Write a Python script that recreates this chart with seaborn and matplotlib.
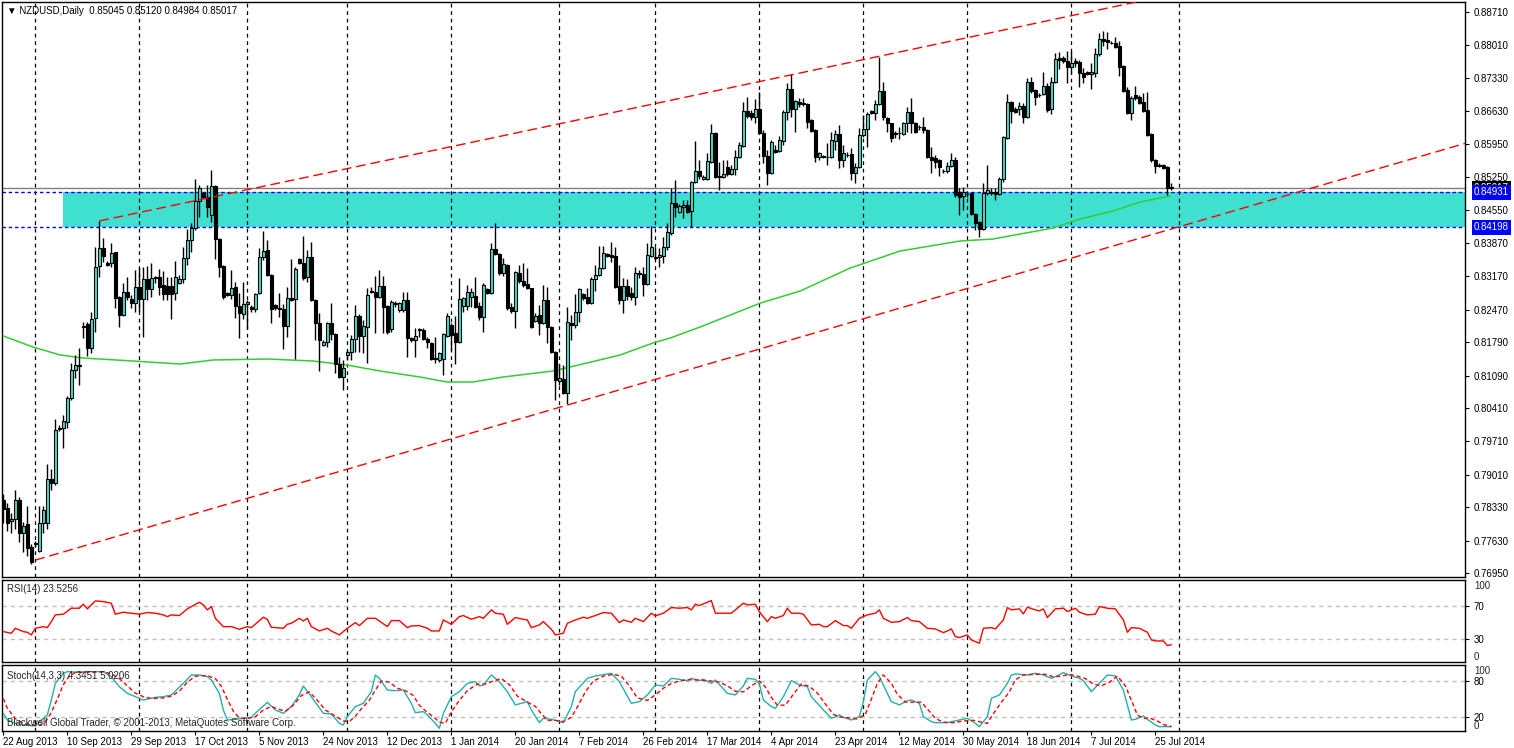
import numpy as np
import matplotlib
matplotlib.use("Agg")
import matplotlib.pyplot as plt
import matplotlib.transforms as mtransforms
from matplotlib.patches import Rectangle
import seaborn as sns

# ---------------- data (NZDUSD daily, one value per bar) ----------------
open_ = [.7847,.7832,.7803,.7809,.7849,.7778,.7797,.7750,.7755,.7742,
.7799,.7799,.7891,.7883,.8000,.7998,.8011,.8061,.8120,.8128,
.8212,.8217,.8166,.8229,.8338,.8376,.8345,.8345,.8368,.8273,
.8236,.8284,.8269,.8261,.8294,.8269,.8311,.8290,.8315,.8315,
.8299,.8296,.8296,.8282,.8303,.8311,.8355,.8393,.8418,.8475,
.8492,.8483,.8446,.8506,.8395,.8338,.8282,.8277,.8294,.8254,
.8238,.8259,.8252,.8248,.8282,.8357,.8372,.8320,.8257,.8250,
.8248,.8212,.8271,.8269,.8353,.8345,.8315,.8357,.8267,.8219,
.8172,.8179,.8219,.8196,.8133,.8105,.8152,.8158,.8185,.8233,
.8191,.8210,.8286,.8284,.8273,.8296,.8254,.8206,.8261,.8246,
.8246,.8267,.8187,.8183,.8206,.8204,.8185,.8177,.8145,.8141,
.8143,.8191,.8215,.8198,.8179,.8254,.8254,.8273,.8275,.8254,
.8231,.8290,.8282,.8374,.8364,.8324,.8341,.8252,.8244,.8324,
.8307,.8301,.8292,.8223,.8236,.8219,.8267,.8210,.8158,.8097,
.8101,.8072,.8219,.8215,.8242,.8280,.8273,.8261,.8311,.8320,
.8334,.8364,.8362,.8359,.8296,.8267,.8296,.8282,.8273,.8322,
.8322,.8301,.8359,.8357,.8357,.8359,.8378,.8408,.8471,.8452,
.8462,.8467,.8454,.8515,.8538,.8521,.8521,.8557,.8618,.8527,
.8525,.8546,.8532,.8542,.8567,.8590,.8664,.8660,.8651,.8668,
.8618,.8569,.8534,.8582,.8580,.8601,.8662,.8710,.8668,.8683,
.8681,.8679,.8645,.8624,.8567,.8567,.8567,.8567,.8601,.8616,
.8561,.8572,.8574,.8534,.8546,.8614,.8626,.8664,.8660,.8679,
.8706,.8649,.8639,.8618,.8618,.8616,.8639,.8662,.8639,.8630,
.8630,.8624,.8567,.8565,.8561,.8538,.8538,.8548,.8561,.8494,
.8485,.8490,.8492,.8448,.8431,.8416,.8492,.8494,.8494,.8490,
.8521,.8607,.8683,.8668,.8668,.8674,.8651,.8725,.8708,.8698,
.8700,.8716,.8668,.8725,.8775,.8775,.8769,.8756,.8769,.8767,
.8744,.8746,.8742,.8744,.8782,.8815,.8813,.8807,.8807,.8800,
.8758,.8708,.8660,.8698,.8693,.8683,.8666,.8616,.8561,.8550,
.8550,.8546,.85045]

high = [.7860,.7841,.7820,.7870,.7855,.7801,.7836,.7755,.7763,.7836,
.7836,.7923,.7912,.8017,.8005,.8026,.8065,.8135,.8152,.8166,
.8221,.8221,.8242,.8378,.8433,.8397,.8349,.8387,.8368,.8275,
.8303,.8315,.8277,.8330,.8334,.8336,.8338,.8345,.8317,.8332,
.8328,.8315,.8315,.8349,.8320,.8378,.8416,.8429,.8521,.8508,
.8494,.8508,.8540,.8508,.8397,.8341,.8284,.8330,.8305,.8282,
.8305,.8267,.8257,.8282,.8376,.8412,.8393,.8322,.8259,.8282,
.8259,.8294,.8353,.8336,.8355,.8401,.8372,.8389,.8269,.8240,
.8183,.8221,.8261,.8198,.8147,.8141,.8162,.8194,.8257,.8238,
.8225,.8292,.8294,.8317,.8330,.8317,.8257,.8267,.8265,.8263,
.8284,.8284,.8189,.8208,.8208,.8208,.8189,.8180,.8189,.8158,
.8198,.8240,.8219,.8233,.8313,.8273,.8299,.8292,.8315,.8263,
.8303,.8292,.8387,.8429,.8366,.8355,.8343,.8261,.8328,.8341,
.8345,.8334,.8292,.8240,.8257,.8299,.8294,.8212,.8160,.8133,
.8131,.8252,.8236,.8280,.8292,.8282,.8292,.8315,.8341,.8380,
.8380,.8366,.8389,.8378,.8341,.8313,.8311,.8294,.8336,.8330,
.8336,.8387,.8422,.8378,.8376,.8399,.8429,.8502,.8519,.8469,
.8477,.8477,.8517,.8601,.8561,.8529,.8576,.8637,.8620,.8557,
.8561,.8561,.8551,.8582,.8599,.8683,.8693,.8666,.8689,.8704,
.8624,.8582,.8603,.8593,.8611,.8666,.8723,.8742,.8687,.8691,
.8691,.8681,.8647,.8626,.8578,.8571,.8597,.8620,.8624,.8635,
.8593,.8578,.8586,.8555,.8628,.8656,.8662,.8666,.8687,.8777,
.8725,.8651,.8639,.8622,.8630,.8641,.8672,.8691,.8641,.8635,
.8651,.8626,.8588,.8571,.8563,.8542,.8557,.8576,.8567,.8502,
.8504,.8492,.8494,.8450,.8433,.8513,.8551,.8502,.8502,.8525,
.8611,.8700,.8685,.8672,.8683,.8681,.8733,.8735,.8710,.8702,
.8746,.8723,.8735,.8786,.8788,.8779,.8790,.8790,.8775,.8771,
.8754,.8748,.8765,.8796,.8826,.8832,.8830,.8811,.8819,.8811,
.8760,.8714,.8695,.8716,.8698,.8702,.8704,.8618,.8563,.8555,
.8553,.8548,.85120]

low = [.7799,.7784,.7778,.7788,.7759,.7738,.7731,.7713,.7750,.7738,
.7778,.7788,.7868,.7879,.7992,.7956,.8000,.8057,.8103,.8089,
.8187,.8149,.8156,.8200,.8315,.8347,.8338,.8336,.8250,.8210,
.8233,.8267,.8250,.8242,.8242,.8189,.8267,.8273,.8303,.8277,
.8267,.8267,.8227,.8267,.8301,.8303,.8341,.8368,.8414,.8441,
.8481,.8441,.8431,.8353,.8315,.8269,.8275,.8269,.8229,.8187,
.8227,.8206,.8242,.8242,.8280,.8351,.8317,.8219,.8246,.8231,
.8164,.8189,.8265,.8143,.8343,.8309,.8305,.8265,.8183,.8118,
.8170,.8168,.8183,.8114,.8103,.8078,.8141,.8141,.8158,.8158,
.8156,.8135,.8282,.8198,.8271,.8198,.8196,.8200,.8252,.8242,
.8242,.8147,.8179,.8147,.8189,.8183,.8166,.8141,.8135,.8137,
.8110,.8189,.8162,.8133,.8177,.8242,.8246,.8252,.8250,.8225,
.8200,.8280,.8280,.8362,.8320,.8317,.8246,.8240,.8208,.8303,
.8294,.8290,.8208,.8221,.8194,.8217,.8177,.8156,.8057,.8089,
.8070,.8049,.8183,.8208,.8221,.8267,.8259,.8259,.8286,.8317,
.8332,.8357,.8347,.8292,.8259,.8240,.8267,.8267,.8257,.8313,
.8275,.8299,.8357,.8351,.8336,.8345,.8372,.8404,.8441,.8450,
.8439,.8450,.8420,.8513,.8521,.8519,.8519,.8555,.8523,.8498,
.8523,.8527,.8529,.8529,.8565,.8588,.8649,.8645,.8639,.8616,
.8555,.8509,.8532,.8576,.8578,.8593,.8645,.8651,.8620,.8672,
.8674,.8628,.8620,.8557,.8561,.8565,.8551,.8565,.8582,.8544,
.8546,.8567,.8519,.8513,.8544,.8609,.8588,.8658,.8645,.8677,
.8645,.8620,.8599,.8607,.8605,.8613,.8620,.8618,.8618,.8624,
.8618,.8565,.8534,.8544,.8527,.8534,.8534,.8546,.8483,.8446,
.8456,.8483,.8446,.8414,.8399,.8414,.8488,.8488,.8477,.8488,
.8515,.8605,.8639,.8660,.8656,.8639,.8649,.8702,.8677,.8693,
.8698,.8662,.8658,.8723,.8752,.8765,.8723,.8744,.8756,.8714,
.8723,.8740,.8710,.8735,.8779,.8800,.8794,.8803,.8796,.8737,
.8704,.8658,.8645,.8687,.8679,.8662,.8611,.8557,.8534,.8546,
.8542,.8488,.84984]

close = [.7830,.7799,.7809,.7849,.7778,.7794,.7748,.7719,.7757,.7799,
.7828,.7891,.7883,.7994,.7996,.8013,.8061,.8120,.8131,.8131,
.8210,.8166,.8227,.8336,.8376,.8359,.8341,.8366,.8271,.8236,
.8284,.8273,.8261,.8294,.8269,.8311,.8290,.8313,.8314,.8294,
.8280,.8280,.8280,.8315,.8311,.8355,.8393,.8418,.8475,.8502,
.8483,.8462,.8506,.8395,.8336,.8273,.8277,.8292,.8254,.8240,
.8259,.8263,.8248,.8280,.8357,.8370,.8320,.8248,.8250,.8248,
.8212,.8271,.8267,.8332,.8345,.8313,.8357,.8267,.8219,.8183,
.8179,.8219,.8196,.8133,.8105,.8124,.8158,.8185,.8233,.8191,
.8212,.8277,.8284,.8273,.8296,.8252,.8200,.8263,.8259,.8261,
.8267,.8187,.8183,.8191,.8204,.8185,.8179,.8143,.8144,.8156,
.8196,.8233,.8194,.8179,.8269,.8271,.8284,.8284,.8252,.8231,
.8299,.8282,.8374,.8364,.8324,.8343,.8250,.8244,.8326,.8307,
.8299,.8292,.8210,.8233,.8219,.8267,.8210,.8158,.8099,.8103,
.8072,.8221,.8215,.8242,.8290,.8271,.8261,.8311,.8320,.8334,
.8366,.8359,.8357,.8294,.8267,.8296,.8275,.8273,.8324,.8324,
.8301,.8362,.8378,.8356,.8362,.8378,.8410,.8471,.8462,.8464,
.8467,.8452,.8515,.8538,.8527,.8525,.8559,.8618,.8525,.8526,
.8532,.8532,.8542,.8567,.8593,.8664,.8653,.8651,.8668,.8618,
.8569,.8534,.8599,.8578,.8603,.8662,.8710,.8668,.8685,.8679,
.8679,.8641,.8622,.8567,.8576,.8569,.8568,.8603,.8616,.8561,
.8576,.8571,.8534,.8546,.8614,.8626,.8658,.8660,.8679,.8706,
.8651,.8639,.8607,.8616,.8617,.8639,.8662,.8639,.8620,.8629,
.8624,.8567,.8561,.8557,.8546,.8537,.8548,.8561,.8488,.8483,
.8494,.8489,.8448,.8429,.8416,.8492,.8498,.8492,.8490,.8521,
.8609,.8683,.8664,.8662,.8674,.8651,.8725,.8706,.8693,.8697,
.8716,.8666,.8725,.8773,.8771,.8769,.8756,.8765,.8765,.8744,
.8735,.8742,.8746,.8782,.8815,.8811,.8809,.8806,.8798,.8756,
.8706,.8660,.8691,.8691,.8681,.8664,.8614,.8561,.8548,.8549,
.8544,.8502,.85017]

# moving average (green) read at bar positions
ma_bar = [0, 7.4, 14.2, 20, 32.4, 44.2, 52.4, 65.9, 77.4, 85.9, 94.2, 104.2, 110.9, 117.4,
          124.9, 137.4, 145.9, 154.2, 162.4, 166.7, 174.2, 189.2, 199.2, 211.7, 224.2,
          239.2, 247.4, 262.4, 269.2, 277.4, 284.2, 291.7]
ma_val = [0.81918, 0.81687, 0.81520, 0.81457, 0.81394, 0.81331, 0.81415, 0.81436, 0.81394,
          0.81310, 0.81184, 0.81058, 0.80954, 0.80954, 0.81058, 0.81184, 0.81352, 0.81520,
          0.81771, 0.81876, 0.82107, 0.82607, 0.82861, 0.83343, 0.83700, 0.83910, 0.83951,
          0.84182, 0.84371, 0.84538, 0.84727, 0.84853]

# trend lines (anchor bars / prices)
trend_up_bar = [24, 290]
trend_up_val = [0.8433, 0.8904]
trend_lo_bar = [8, 366]
trend_lo_val = [0.7722, 0.8597]

# zone and levels
zone_start_bar = 14.9
zone_lo, zone_hi = 0.84198, 0.84931
bid = 0.85017

# RSI(14)
rsi_bar = [0,2,3,5,6,7,8,10,11,12,13,15,17,19,20,21,23,25,27,28,30,32,34,36,38,40,41,42,44,46,
           49,50,51,52,53,55,57,59,61,62,65,66,67,70,71,72,74,75,76,77,79,81,82,84,85,86,88,89,
           91,93,94,96,97,99,101,102,104,106,107,109,110,112,114,115,117,119,120,122,123,125,
           126,128,130,131,132,134,135,137,138,140,141,143,145,146,148,150,152,154,155,157,158,
           160,162,163,165,167,169,171,172,173,174,177,178,182,185,186,188,189,191,192,193,195,
           196,197,199,200,202,204,205,206,208,210,211,212,214,216,218,219,220,222,224,226,227,
           229,231,233,235,236,237,238,239,241,242,244,245,247,248,250,251,252,254,255,256,258,
           259,260,261,263,265,266,268,269,271,273,274,276,278,280,281,282,284,286,287,288,290,
           291,292]
rsi_val = [39.2,37.2,43.2,39.2,38.4,35.2,43.2,45.2,44.0,51.2,59.3,60.1,67.3,67.3,72.1,66.5,76.1,
           75.3,73.3,60.1,62.5,61.3,60.1,62.1,61.3,59.3,57.2,59.3,58.5,66.5,74.5,71.3,65.3,69.3,
           55.2,45.2,45.2,42.0,45.2,44.0,56.5,54.0,44.4,43.2,48.0,49.2,55.2,52.0,55.2,45.2,40.0,
           43.2,40.0,35.2,39.2,43.2,50.0,46.4,55.2,55.2,52.0,45.2,52.4,52.4,44.0,46.0,46.4,43.2,
           40.0,40.0,53.2,48.0,57.2,58.5,54.0,57.2,55.2,65.3,61.3,60.1,48.0,56.1,54.0,53.2,44.0,
           47.2,51.2,42.0,35.2,37.2,49.2,53.2,56.5,55.2,58.5,62.1,61.3,50.0,53.2,50.4,55.2,51.2,
           61.3,58.1,61.3,68.1,67.3,68.1,65.3,72.1,70.5,76.5,61.3,61.3,73.3,71.3,72.1,63.0,51.2,
           57.2,55.2,58.5,67.3,61.3,61.3,60.1,47.2,48.0,45.2,45.2,52.4,46.4,46.4,43.2,55.2,59.3,
           61.3,65.3,55.2,50.4,51.2,56.1,52.4,51.2,43.2,42.4,38.0,40.0,42.4,33.2,32.0,35.2,29.2,
           25.2,43.2,44.0,42.4,53.2,68.1,65.3,66.5,60.5,68.5,65.3,64.1,66.5,56.1,66.5,67.3,63.3,
           67.3,62.5,59.3,60.1,69.3,67.3,66.5,53.2,38.4,44.0,43.2,38.4,29.2,28.0,28.0,22.4,23.5]

# Stochastic(14,3,3): main and signal
stk_bar = [0,1,3,5,8,9,11,12,13,15,16,19,22,25,27,29,31,33,35,38,40,42,45,47,49,51,52,54,55,56,
           58,60,62,63,66,68,70,72,74,75,77,80,82,84,85,86,88,90,92,93,94,96,98,100,102,103,105,
           106,108,109,110,112,114,116,118,119,120,122,124,126,128,131,132,134,135,137,140,142,
           143,146,148,151,152,154,157,159,161,163,165,167,169,171,172,174,175,177,178,181,183,
           185,186,188,189,190,192,193,195,197,199,201,202,205,207,209,210,212,214,215,216,218,
           219,221,222,224,226,227,229,230,232,233,236,239,241,243,244,246,247,249,251,252,253,
           256,258,260,262,263,265,267,269,270,272,274,276,278,280,281,282,283,285,286,288,289,
           291,292]
stk_val = [26.6,15.6,10.1,7.3,5.7,12.8,23.9,48.6,76.1,92.7,95.4,94.3,95.4,95.4,87.2,70.6,59.6,
           54.1,48.6,53.0,54.1,56.9,76.1,89.9,89.9,87.2,81.7,59.6,32.1,15.6,16.7,18.3,20.0,26.6,
           44.8,32.1,26.6,37.6,56.9,71.7,54.1,26.6,25.5,10.1,7.3,21.1,37.6,43.1,62.4,89.9,84.4,
           65.1,64.0,65.1,43.1,27.7,29.4,23.9,10.1,1.8,26.6,54.1,62.4,76.1,78.9,71.7,73.4,89.9,
           78.9,62.4,40.4,45.9,32.1,11.2,18.3,16.7,11.2,37.6,62.4,84.4,88.3,91.6,92.7,78.9,43.1,
           45.9,56.9,73.4,71.7,84.4,82.8,80.6,84.4,80.6,82.8,76.1,81.7,59.6,56.9,71.7,84.4,82.8,
           75.0,48.6,37.6,34.9,54.1,80.6,73.4,70.6,54.1,32.1,18.3,23.9,20.0,15.6,21.1,45.9,81.7,
           95.4,87.2,59.6,45.9,40.4,47.5,48.6,43.1,21.1,12.8,11.2,11.2,15.6,18.3,10.1,4.6,21.1,
           51.4,56.9,76.1,89.9,91.6,89.9,92.7,89.9,84.4,87.2,93.8,88.3,84.4,80.6,62.4,76.1,89.9,
           88.3,65.1,40.4,15.6,16.7,22.2,16.7,7.3,4.6,4.6,4.35]
sig_bar = [0,1,3,5,7,9,10.5,12,13.5,15,16.5,18,21,25,27,29,31,33,35,37,40,42,44,46,48,51,53,54.5,
           56,57.5,59,61,63,65,67,68.5,70.5,72.5,74.5,76.5,78.5,80.5,83,85,86.5,88,89.5,91.5,93,
           94.5,96.5,98.5,100.5,102.5,104,106,107.5,109,110.5,112,114,116,118.5,120.5,122.5,124.5,
           126.5,128.5,131,133,134.5,136,138,140,142,143.5,145.5,147.5,150,152.5,154.5,156.5,158.5,
           161,163,165,167,169,171,173,175,177,179,181,183,185,187,189,190.5,192,193.5,195.5,197.5,
           199.5,201.5,203.5,205.5,207.5,209.5,211.5,213.5,215.5,217,218.5,220,222,223.5,225.5,
           227.5,229.5,231.5,233,235,237.5,240,242.5,244.5,246,247.5,249.5,251.5,253,255,258,260.5,
           262.5,264.5,266.5,268.5,270.5,272.5,274.5,276.5,278.5,280.5,282,283.5,285,286.5,288.5,
           290,292]
sig_val = [51,35,18,10,7,7,12,28,50,74,88,94,95,95,92,84,72,60,54,51,52,55,63,78,88,89,84,71,50,
           30,19,18,21,32,38,34,30,40,56,62,48,32,22,14,13,22,34,48,65,80,78,68,64,56,40,28,21,12,
           10,29,48,64,75,75,80,84,74,55,45,38,26,15,15,13,20,37,62,80,88,91,88,72,52,48,57,68,76,
           80,82,82,81,80,78,72,63,62,72,80,70,53,40,40,58,75,71,60,42,25,20,19,17,25,50,76,90,76,
           58,45,45,45,30,18,12,11,14,15,12,10,26,45,62,82,90,91,91,87,88,91,88,84,75,72,78,88,72,
           48,24,18,19,14,8,5.02]

month_bars = [8, 34, 61, 86, 112, 139, 163, 189, 215, 241, 267, 294]
date_bars = list(range(0, 289, 16))
date_labels = ['22 Aug 2013', '10 Sep 2013', '29 Sep 2013', '17 Oct 2013', '5 Nov 2013',
               '24 Nov 2013', '12 Dec 2013', '1 Jan 2014', '20 Jan 2014', '7 Feb 2014',
               '26 Feb 2014', '17 Mar 2014', '4 Apr 2014', '23 Apr 2014', '12 May 2014',
               '30 May 2014', '18 Jun 2014', '7 Jul 2014', '25 Jul 2014']
price_ticks = [0.88710, 0.88010, 0.87330, 0.86630, 0.85950, 0.85250, 0.84550, 0.83870,
               0.83170, 0.82470, 0.81790, 0.81090, 0.80410, 0.79710, 0.79010, 0.78330,
               0.77630, 0.76950]

# ---------------- styling ----------------
sns.set_theme(style="white")
plt.rcParams['font.family'] = ['Liberation Sans', 'DejaVu Sans']
plt.rcParams['font.size'] = 7
plt.rcParams['axes.linewidth'] = 1.0

CYAN = '#40E0D0'
W, H = 1514, 748
fig = plt.figure(figsize=(W / 100, H / 100), dpi=100)
fig.patch.set_facecolor('white')


def rect(top, bottom, left=2, right=1465):
    return [left / W, 1 - bottom / H, (right - left) / W, (bottom - top) / H]


ax = fig.add_axes(rect(2, 577))
ax_rsi = fig.add_axes(rect(579.5, 662), sharex=ax)
ax_st = fig.add_axes(rect(665, 731), sharex=ax)

for a in (ax, ax_rsi, ax_st):
    a.set_facecolor('white')
    for s in a.spines.values():
        s.set_color('black')
        s.set_linewidth(1)
    for b in month_bars:
        a.axvline(b, color='black', lw=0.9, ls=(0, (3, 3)), zorder=0.8)

# ---------------- main price panel ----------------
o = np.array(open_); h = np.array(high); l = np.array(low); c = np.array(close)
bars = np.arange(len(c))
ax.add_patch(Rectangle((zone_start_bar, zone_lo), 500, zone_hi - zone_lo,
                       facecolor=CYAN, edgecolor='none', zorder=0.5))
for lv in (zone_lo, zone_hi):
    ax.axhline(lv, color='#0000FF', lw=1, ls=(0, (2.5, 2.0)), zorder=1)
ax.axhline(bid, color='#808080', lw=1, zorder=1)

sns.lineplot(x=ma_bar, y=ma_val, ax=ax, color='#32CD32', lw=1.1, zorder=3)

ax.vlines(bars, l, h, color='black', lw=1, zorder=4)
up = c > o
bot = np.minimum(o, c)
hgt = np.abs(c - o)
ax.bar(bars[up], hgt[up], bottom=bot[up], width=0.66, color=CYAN,
       edgecolor='black', linewidth=0.8, zorder=5)
ax.bar(bars[~up], hgt[~up], bottom=bot[~up], width=0.66, color='black',
       edgecolor='black', linewidth=0.8, zorder=5)
doji = hgt < 0.00008
ax.hlines(c[doji], bars[doji] - 0.4, bars[doji] + 0.4, color='black', lw=1, zorder=5)

ax.plot(trend_up_bar, trend_up_val, color='red', lw=1, ls=(0, (7, 3.5)), zorder=6)
ax.plot(trend_lo_bar, trend_lo_val, color='red', lw=1, ls=(0, (7, 3.5)), zorder=6)

ax.set_xlim(-0.33, 365.4)
ax.set_ylim(0.76866, 0.88920)
ax.yaxis.tick_right()
ax.set_yticks(price_ticks)
ax.set_yticklabels([f'{t:.5f}' for t in price_ticks])
ax.tick_params(axis='y', right=True, left=False, length=3, width=0.8, pad=3,
               labelsize=7, colors='black')
ax.tick_params(axis='x', bottom=False, labelbottom=False)
ax.set_xlabel(''); ax.set_ylabel('')

tr = mtransforms.blended_transform_factory(ax.transAxes, ax.transData)
xlab = (1474 - 2) / 1463
ax.text(xlab, bid, f'{bid:.5f}', transform=tr, color='white', fontsize=7, va='center',
        ha='left', zorder=10, clip_on=False,
        bbox=dict(boxstyle='square,pad=0.25', fc='black', ec='none'))
for lv in (zone_hi, zone_lo):
    ax.text(xlab, lv, f'{lv:.5f}', transform=tr, color='white', fontsize=7, va='center',
            ha='left', zorder=11, clip_on=False,
            bbox=dict(boxstyle='square,pad=0.25', fc='#0000FF', ec='none'))

# ---------------- RSI panel ----------------
ax_rsi.axhline(70, color='#C0C0C0', lw=1, ls=(0, (3, 3)), zorder=1)
ax_rsi.axhline(30, color='#C0C0C0', lw=1, ls=(0, (3, 3)), zorder=1)
sns.lineplot(x=rsi_bar, y=rsi_val, ax=ax_rsi, color='red', lw=1, zorder=3)
ax_rsi.set_ylim(2.7, 101.8)
ax_rsi.yaxis.tick_right()
ax_rsi.set_yticks([30, 70])
ax_rsi.set_yticklabels(['30', '70'])
ax_rsi.tick_params(axis='y', right=True, left=False, length=3, width=0.8, pad=3,
                   labelsize=7, colors='black')
ax_rsi.tick_params(axis='x', bottom=False, labelbottom=False)
ax_rsi.set_xlabel(''); ax_rsi.set_ylabel('')
ax_rsi.text(xlab, 0.985, '100', transform=ax_rsi.transAxes, va='top', ha='left', fontsize=7)
ax_rsi.text(xlab, 0.0, '0', transform=ax_rsi.transAxes, va='bottom', ha='left', fontsize=7)

# ---------------- Stochastic panel ----------------
ax_st.axhline(80, color='#C0C0C0', lw=1, ls=(0, (3, 3)), zorder=1)
ax_st.axhline(20, color='#C0C0C0', lw=1, ls=(0, (3, 3)), zorder=1)
sns.lineplot(x=stk_bar, y=stk_val, ax=ax_st, color='#20B2AA', lw=1, zorder=3)
sns.lineplot(x=sig_bar, y=sig_val, ax=ax_st, color='red', lw=1, ls=(0, (3, 2)), zorder=4)
ax_st.set_ylim(-2.6, 106.4)
ax_st.yaxis.tick_right()
ax_st.set_yticks([20, 80])
ax_st.set_yticklabels(['20', '80'])
ax_st.tick_params(axis='y', right=True, left=False, length=3, width=0.8, pad=3,
                  labelsize=7, colors='black')
ax_st.text(xlab, 0.99, '100', transform=ax_st.transAxes, va='top', ha='left', fontsize=7)
ax_st.text(xlab, 0.0, '0', transform=ax_st.transAxes, va='bottom', ha='left', fontsize=7)
ax_st.set_xticks(date_bars)
ax_st.set_xticklabels(date_labels)
ax_st.tick_params(axis='x', bottom=True, length=3, width=0.8, pad=1.5, labelsize=7,
                  colors='black')
for t in ax_st.get_xticklabels():
    t.set_horizontalalignment('left')
ax_st.set_xlabel(''); ax_st.set_ylabel('')

# ---------------- texts ----------------
fig.text(7 / W, 1 - 11 / H, '\u25bc NZDUSD,Daily  0.85045 0.85120 0.84984 0.85017',
         fontsize=7, va='center', ha='left', color='black')
fig.text(7 / W, 1 - 589 / H, 'RSI(14) 23.5256', fontsize=7, va='center', ha='left')
fig.text(7 / W, 1 - 676 / H, 'Stoch(14,3,3) 4.3451 5.0206', fontsize=7, va='center', ha='left')
fig.text(7 / W, 1 - 723 / H, 'Blackwell Global Trader, \u00a9 2001-2013, MetaQuotes Software Corp.',
         fontsize=7, va='center', ha='left')

fig.savefig('out.png', dpi=100)
